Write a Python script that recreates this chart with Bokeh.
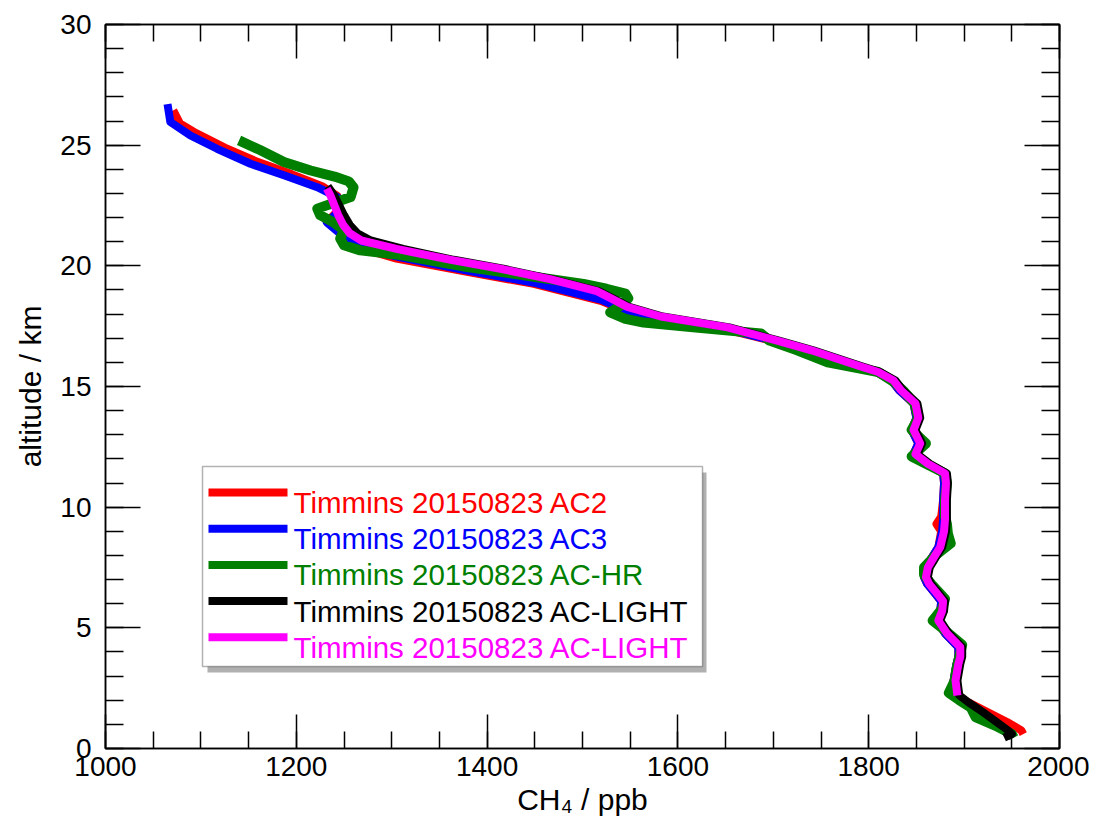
from bokeh.plotting import figure
from bokeh.models import (LinearAxis, SingleIntervalTicker, Range1d, Label, BoxAnnotation,
                          CustomJSTickFormatter)
from bokeh.embed import file_html
from bokeh.resources import INLINE

# ---------------- data (CH4 in ppb, altitude in km) ----------------
ac2_alt = [26.44, 25.9, 25.5, 24.9, 24.3, 23.8, 23.3, 22.9, 22.3, 21.9, 21.3, 20.7, 20.3,
           19.75, 19.25, 18.55, 18.0, 17.5, 16.9, 16.2, 15.6, 15.25, 14.84, 14.3, 13.7, 13.2,
           12.64, 12.2, 11.8, 11.4, 11.0, 10.3, 9.6, 9.3, 9.0, 8.34, 7.9, 7.5, 7.1, 6.84, 6.4,
           6.1, 5.7, 5.3, 4.77, 4.2, 3.8, 3.5, 2.82, 2.2, 1.9, 1.5, 1.1, 0.75, 0.6]
ac2_ch4 = [1071, 1078, 1095, 1125, 1160, 1195, 1227, 1243, 1244, 1234, 1248, 1270, 1305,
           1379, 1449, 1519, 1553, 1636, 1698, 1758, 1808, 1824, 1832, 1847, 1850, 1845,
           1852, 1847, 1860, 1878, 1879, 1878, 1876, 1871, 1876, 1873, 1866, 1860, 1858, 1861, 1870,
           1876, 1875, 1871, 1880, 1894, 1894, 1892, 1889, 1890, 1905, 1925, 1945, 1960, 1962]

ac3_alt = [26.7, 25.96, 25.4, 24.85, 24.23, 23.75, 23.26, 22.85, 22.3, 21.8, 21.33, 20.77,
           20.35, 19.8, 19.3, 18.6, 18.0, 17.5, 16.9, 16.2, 15.6, 15.25, 14.84, 14.3, 13.7, 13.2,
           12.64, 12.2, 11.8, 11.4, 11.0, 10.3, 9.5, 9.0, 8.34, 7.9, 7.5, 7.1, 6.84, 6.4,
           6.1, 5.7, 5.3, 4.77, 4.2, 3.8, 3.5, 2.82, 2.2, 1.9, 1.5, 1.1, 0.75, 0.6]
ac3_ch4 = [1065, 1068, 1089, 1117, 1152, 1187, 1222, 1243, 1246, 1232, 1246, 1264,
           1309, 1379, 1449, 1519, 1555, 1638, 1700, 1758, 1808, 1824, 1832, 1847, 1850, 1845,
           1852, 1847, 1860, 1878, 1879, 1878, 1878, 1877, 1873, 1866, 1860, 1858, 1861, 1870,
           1876, 1875, 1871, 1880, 1894, 1894, 1892, 1889, 1891, 1903, 1918, 1932, 1944, 1948]

achr_alt = [25.2, 24.8, 24.3, 23.95, 23.7, 23.5, 23.25, 22.85, 22.6, 22.37, 22.1, 21.8, 21.47,
            21.13, 20.85, 20.64, 20.45, 19.95, 19.55, 19.25, 19.05, 18.85, 18.65, 18.35, 18.07,
            17.8, 17.65, 17.45, 17.2, 16.9, 16.5, 16.0, 15.6, 15.2, 14.84, 14.3, 13.7, 13.2,
            12.64, 12.1, 11.8, 11.4, 11.0, 10.3, 9.6, 9.3, 8.9, 8.5, 8.0, 7.5, 7.2, 6.8, 6.2,
            5.8, 5.3, 4.9, 4.3, 3.8, 3.3, 2.8, 2.3, 2.0, 1.7, 1.3, 0.9, 0.6, 0.45]
achr_ch4 = [1140, 1162, 1187, 1215, 1240, 1255, 1260, 1257, 1239, 1222, 1225, 1239, 1250,
            1246, 1250, 1267, 1309, 1379, 1449, 1501, 1525, 1545, 1548, 1540, 1529,
            1545, 1564, 1616, 1687, 1696, 1725, 1757, 1810, 1826, 1836, 1848, 1852, 1845,
            1860, 1845, 1860, 1880, 1882, 1880, 1880, 1882, 1883, 1886, 1870, 1858, 1858, 1866, 1880,
            1877, 1867, 1880, 1898, 1895, 1892, 1890, 1884, 1895, 1907, 1912, 1935, 1950, 1952]

light_alt = [23.3, 22.9, 22.5, 22.1, 21.7, 21.35, 21.05, 20.7, 20.25, 19.88, 19.45, 18.95,
             18.65, 18.3, 17.9, 17.45, 16.9, 16.5, 16.2, 15.85, 15.6, 15.25, 14.84, 14.3, 13.7,
             13.2, 12.64, 12.2, 11.8, 11.4, 11.0, 10.3, 9.5, 9.0, 8.34, 7.9, 7.5, 7.1, 6.84,
             6.4, 6.1, 5.7, 5.3, 4.77, 4.2, 3.8, 3.5, 2.82, 2.2, 1.9, 1.5, 1.1, 0.75, 0.6, 0.45]
light_ch4 = [1233, 1240, 1245, 1250, 1256, 1264, 1278, 1312, 1365, 1417, 1468, 1517,
             1532, 1549, 1584, 1654, 1706, 1742, 1765, 1792, 1812, 1828, 1836, 1851, 1854,
             1849, 1856, 1851, 1864, 1882, 1883, 1882, 1882, 1881, 1877, 1870, 1864, 1862, 1865,
             1874, 1880, 1879, 1875, 1884, 1898, 1898, 1896, 1893, 1895, 1905, 1920, 1934, 1946, 1950, 1942]

light2_alt = [23.2, 22.9, 22.5, 22.1, 21.7, 21.35, 21.05, 20.7, 20.25, 19.88, 19.45, 18.95,
              18.65, 18.3, 17.9, 17.45, 16.9, 16.5, 16.2, 15.85, 15.6, 15.25, 14.84, 14.3, 13.7,
              13.2, 12.64, 12.2, 11.8, 11.4, 11.0, 10.3, 9.5, 9.0, 8.34, 7.9, 7.5, 7.1, 6.84,
              6.4, 6.1, 5.7, 5.3, 4.77, 4.2, 3.8, 3.5, 2.82, 2.2]
light2_ch4 = [1232, 1236, 1240, 1244, 1249, 1256, 1268, 1305, 1362, 1414, 1466, 1515,
              1530, 1547, 1582, 1652, 1704, 1740, 1763, 1790, 1810, 1826, 1834, 1849, 1852,
              1847, 1854, 1849, 1862, 1880, 1881, 1880, 1880, 1879, 1875, 1868, 1862, 1860, 1863,
              1872, 1878, 1877, 1873, 1882, 1896, 1896, 1894, 1891, 1893]

legend_labels = ["Timmins 20150823 AC2", "Timmins 20150823 AC3", "Timmins 20150823 AC-HR",
                 "Timmins 20150823 AC-LIGHT", "Timmins 20150823 AC-LIGHT"]
colors = ["#ff0000", "#0000ff", "#007f00", "#000000", "#ff00ff"]
widths = [8, 8, 10, 8, 8]

x_ticks_interval = 200
y_ticks_interval = 5

FONT = "Liberation Sans"

p = figure(frame_width=954, frame_height=724,
           x_range=Range1d(1000, 2000), y_range=Range1d(0, 30),
           output_backend="svg", toolbar_location=None,
           min_border_left=105, min_border_top=24, min_border_right=30, min_border_bottom=75)
p.background_fill_color = "white"
p.border_fill_color = "white"
p.outline_line_color = "black"
p.outline_line_width = 1.5
p.xgrid.visible = False
p.ygrid.visible = False

xt = SingleIntervalTicker(interval=x_ticks_interval, num_minor_ticks=4)
yt = SingleIntervalTicker(interval=y_ticks_interval, num_minor_ticks=5)

xb = p.below[0]
yl = p.left[0]
xb.ticker = xt
yl.ticker = yt
xb.axis_label = "CH\u2084 / ppb"
yl.axis_label = "altitude / km"

blank = CustomJSTickFormatter(code="return ''")
xa = LinearAxis(ticker=xt, formatter=blank, major_label_standoff=0)
yr = LinearAxis(ticker=yt, formatter=blank, major_label_standoff=0)
p.add_layout(xa, "above")
p.add_layout(yr, "right")

for ax in (xb, yl, xa, yr):
    ax.axis_line_color = "black"
    ax.axis_line_width = 1.5
    ax.major_tick_line_color = "black"
    ax.minor_tick_line_color = "black"
    ax.major_tick_line_width = 1.5
    ax.minor_tick_line_width = 1.5
    ax.major_tick_out = 0
    ax.minor_tick_out = 0
    ax.major_label_text_font = FONT
    ax.major_label_text_color = "black"
    ax.major_label_text_font_size = "28px"
    ax.axis_label_text_font = FONT
    ax.axis_label_text_font_style = "normal"
    ax.axis_label_text_color = "black"
    ax.axis_label_text_font_size = "30px"

for ax in (xb, xa):
    ax.major_tick_in = 34
    ax.minor_tick_in = 17
for ax in (yl, yr):
    ax.major_tick_in = 35
    ax.minor_tick_in = 18

xb.major_label_standoff = 8
yl.major_label_standoff = 14
xb.axis_label_standoff = 4
yl.axis_label_standoff = 10

series = [(ac2_ch4, ac2_alt), (ac3_ch4, ac3_alt), (achr_ch4, achr_alt),
          (light_ch4, light_alt), (light2_ch4, light2_alt)]
for (xs, ys), c, w in zip(series, colors, widths):
    p.line(xs, ys, line_color=c, line_width=w, line_join="round")

# legend (drawn in screen units, relative to the plot frame)
lg_left, lg_right, lg_top, lg_bottom = 97, 597, 282, 82
p.add_layout(BoxAnnotation(left=lg_left + 5, right=lg_right + 4, top=lg_top - 6, bottom=lg_bottom - 6,
                           left_units="screen", right_units="screen", top_units="screen", bottom_units="screen",
                           fill_color="#707070", fill_alpha=0.55, line_alpha=0))
p.add_layout(BoxAnnotation(left=lg_left, right=lg_right, top=lg_top, bottom=lg_bottom,
                           left_units="screen", right_units="screen", top_units="screen", bottom_units="screen",
                           fill_color="white", fill_alpha=1.0, line_color="black", line_width=1.5))
row0, row_step = 256, 36.2
for i, (lab, c) in enumerate(zip(legend_labels, colors)):
    yc = row0 - i * row_step
    p.add_layout(BoxAnnotation(left=103, right=182, top=yc + 4, bottom=yc - 4,
                               left_units="screen", right_units="screen", top_units="screen", bottom_units="screen",
                               fill_color=c, fill_alpha=1.0, line_alpha=0))
    p.add_layout(Label(x=188, y=yc - 10, x_units="screen", y_units="screen", text=lab,
                       text_font=FONT, text_font_size="29.5px", text_color=c, text_baseline="alphabetic"))

open("out.html", "w").write(file_html(p, INLINE))
